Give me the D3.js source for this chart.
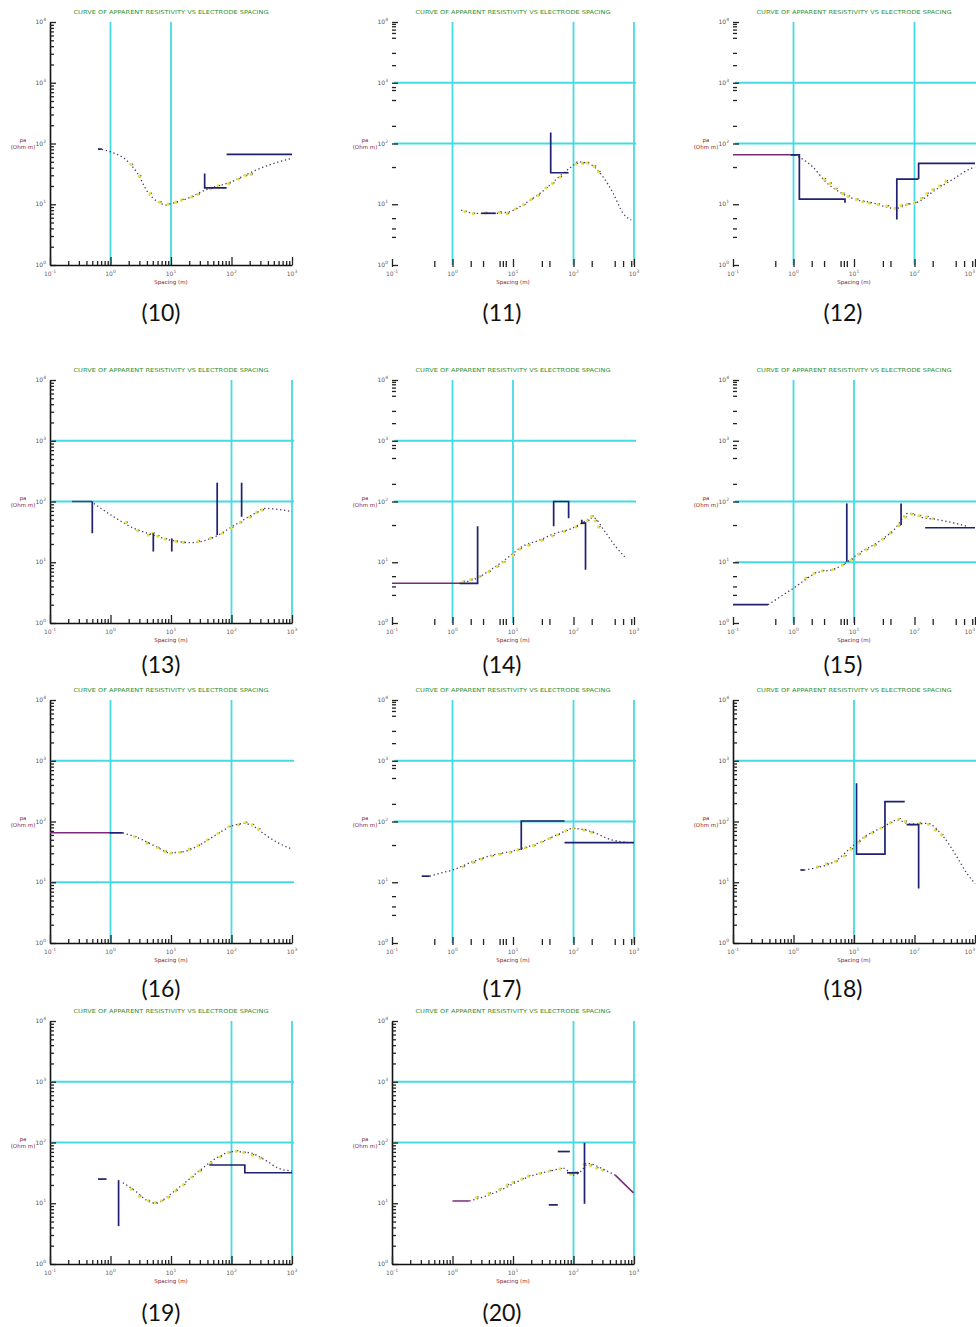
<!DOCTYPE html>
<html><head><meta charset="utf-8">
<script src="https://cdn.jsdelivr.net/npm/d3@7"></script>
<style>body{margin:0;background:#fff}svg{display:block}</style>
</head><body>
<svg id="c" width="976" height="1327"></svg>
<script>
// ---------- DATA (spacing in m, apparent resistivity in ohm-m) ----------
const panelIds = ["(10)","(11)","(12)","(13)","(14)","(15)","(16)","(17)","(18)","(19)","(20)"];
const xTickLabels = [0.1,1,10,100,1000];
const yTickLabels = [1,10,100,1000,10000];
const xMinorSparse = [0.5,2,3.2,6,6.8,7.6,30,40,200,480,660,900];
const yMinorSparse = [2.9,4,5.9,41,195,520,760,850,1950,3100,5500,6600,7500,8500,9300];
const titleText = "CURVE OF APPARENT RESISTIVITY VS ELECTRODE SPACING";

const curve10 = [[0.72,80],[1.0,73],[2.0,49],[2.8,32],[4.1,16],[6,11],[8.3,9.7],[10.7,10.4],[19,12.5],[36,17],[100,23.5],[190,32],[410,44],[1000,57]];
const field10 = [[2.2,45],[3,29],[4.5,15],[6.5,10.8],[9,10],[12,10.8],[15,11.8],[22,13.2],[28,14.5],[45,18],[60,20],[90,22],[130,26],[170,29.5],[210,31]];
const model10 = [[[0.62,81],[0.72,81]],[[36,32],[36,18.6],[83,18.6]],[[83,66],[1000,66]]];
const purple10 = [];
const gridX10 = [1,10], gridY10 = [];

const curve11 = [[1.39,8.0],[2.45,7.1],[5.2,7.1],[8.6,7.5],[16,10.4],[30,16],[57,28],[100,44],[120,50],[200,44],[310,28],[455,15],[660,7.1],[900,5.5]];
const field11 = [[1.6,7.6],[2.2,7.0],[3.5,7.2],[6,7.4],[8,7.0],[11,8.4],[15,9.8],[20,12],[26,14],[35,18.5],[45,22],[60,28],[75,33],[110,46],[140,47],[170,48],[220,42],[260,34]];
const model11 = [[[42,152],[42,33],[83,33]],[[3,7.1],[5.2,7.1]]];
const purple11 = [];
const gridX11 = [1,100,1000], gridY11 = [100,1000];

const curve12 = [[1.04,65],[2.07,41.5],[3.4,23.5],[5.7,16],[9.4,12.5],[20,10.6],[48,8.5],[79,10],[116,11],[218,17],[410,25],[870,39],[1000,41]];
const field12 = [[3.2,26],[4,22],[5,18],[6.5,15],[8,13.5],[11,12],[14,11],[18,10.4],[25,10],[35,9.3],[48,8.6],[60,9.5],[75,10],[100,10.5],[130,12.5],[160,15],[200,17.5],[260,20],[330,24]];
const model12 = [[[0.9,65],[1.25,65],[1.25,12.1],[7.1,12.1],[7.1,10.6]],[[51,5.6],[51,26],[116,26]],[[117,26],[117,47],[1000,47]]];
const purple12 = [[[0.1,65],[1.04,65]]];
const gridX12 = [1,100], gridY12 = [100,1000];

const curve13 = [[0.53,93],[1.13,56],[2.45,36],[4.6,29],[10,23],[21.5,21],[52,26],[113,41],[245,64],[360,77],[600,74],[1000,68]];
const field13 = [[1.8,45],[2.8,33],[4.2,28],[5,30],[6,27],[8,24],[12,22],[16,21],[28,22],[45,25],[70,30],[100,37],[140,45],[200,55],[260,66],[320,72]];
const model13 = [[[0.5,100],[0.5,30]],[[5.1,30],[5.1,15]],[[10.3,24.7],[10.3,15]],[[58,204],[58,28]],[[147,204],[147,56]]];
const purple13 = [[[0.23,100],[0.5,100]]];
const gridX13 = [100,1000], gridY13 = [100,1000];

const curve14 = [[1.3,4.5],[2.45,5.4],[4.6,7.9],[8.6,12.3],[14,18],[27,23],[50,30],[94,36],[137,44],[213,54],[330,32],[480,19],[700,12.3]];
const field14 = [[1.5,4.8],[2,5.2],[2.8,5.8],[4,7],[5.5,8.5],[7,10],[10,13],[13,16.5],[18,19],[30,23],[45,27],[70,32],[110,38],[140,44],[170,48],[200,57],[230,48],[260,38]];
const model14 = [[[1.3,4.5],[2.6,4.5],[2.6,39]],[[47,39],[47,100],[83,100],[83,53]],[[137,50],[137,44],[158,44],[158,7.5]]];
const purple14 = [[[0.1,4.5],[1.3,4.5]]];
const gridX14 = [1,10], gridY14 = [100,1000];

const curve15 = [[0.38,2.0],[0.98,3.7],[2.35,6.6],[5.0,7.9],[7.8,10.2],[12,14],[25.6,21.8],[48,36],[79,64],[131,55],[245,50],[465,44],[770,38.5]];
const field15 = [[1.6,5.5],[2.2,6.6],[3,7.2],[4.5,7.6],[6.5,9],[9,11],[12,13.5],[16,16],[22,19],[30,24],[40,30],[55,40],[70,55],[90,62],[120,58],[160,56],[200,52]];
const model15 = [[[0.1,2.0],[0.38,2.0]],[[7.6,93],[7.6,10.2]],[[60,93],[60,41]],[[150,37],[1000,37]]];
const purple15 = [];
const gridX15 = [1,10], gridY15 = [10,100];

const curve16 = [[1.6,65],[3.0,52.6],[5.7,38.5],[9.4,30.6],[15.6,31.7],[29,40.6],[55,60],[103,85],[161,93],[236,82],[365,60],[600,44],[945,36]];
const field16 = [[2.5,56],[4,44],[6,37],[8,32],[10,30],[14,31],[20,35],[28,40],[40,50],[60,64],[90,82],[130,88],[170,96],[220,88],[280,75]];
const model16 = [[[0.97,65],[1.6,65]]];
const purple16 = [[[0.1,65],[1.0,65]]];
const gridX16 = [1,100], gridY16 = [10,1000];

const curve17 = [[0.42,12.6],[0.61,14],[1.0,15.9],[2.15,21.8],[4.6,28],[8.6,31.7],[14,36],[30,46.5],[57,62],[100,77],[200,67.5],[425,50],[800,45]];
const field17 = [[1.5,18],[2.2,21],[3,24],[4.5,27],[6,29],[9,31],[12,34],[16,37],[22,40],[30,46],[40,53],[55,60],[75,70],[100,76],[150,72],[200,66]];
const model17 = [[[0.31,12.6],[0.42,12.6]],[[13.7,34],[13.7,102],[71,102]],[[71,45],[1000,45]]];
const purple17 = [];
const gridX17 = [1,100,1000], gridY17 = [100,1000];

const curve18 = [[1.5,15.9],[2.19,17],[4.7,21.8],[10,41],[16.6,60],[31,82],[51.6,106],[85,91],[161,93],[302,56],[500,26.3],[735,14],[1000,9.5]];
const field18 = [[2.5,18],[3.5,20],[5,22],[7,27],[9,35],[12,46],[15,55],[20,65],[28,78],[40,95],[55,110],[70,100],[90,88],[120,93],[170,90],[220,72],[280,60]];
const model18 = [[[1.3,15.9],[1.5,15.9]],[[11,425],[11,29],[32.5,29],[32.5,212],[69,212]],[[74,89],[117,89],[117,7.9]]];
const purple18 = [];
const gridX18 = [10], gridY18 = [1000];

const curve19 = [[1.6,21.8],[2.66,15.5],[3.9,11.3],[5.7,10],[9.4,13.7],[17.7,22.6],[33,37.6],[63,59],[103,71],[195,68],[365,51],[600,37.6],[1000,34]];
const field19 = [[2.2,17],[3,13],[4.2,11],[5.5,10.2],[7,11],[9,12.5],[12,16],[16,20],[22,27],[30,34],[45,45],[65,58],[90,68],[120,72],[160,68],[220,62],[300,55]];
const model19 = [[[0.62,25],[0.86,25]],[[1.36,24],[1.36,4.2]],[[43,42.6],[166,42.6],[166,31.8],[1000,31.8]]];
const purple19 = [];
const gridX19 = [100,1000], gridY19 = [100,1000];

const curve20 = [[1.9,10.9],[3.3,12.8],[6.3,16.5],[11.8,22.6],[22,29],[42,34],[69,37.6],[100,29],[130,33],[177,45],[315,36],[490,29]];
const field20 = [[2.5,12.5],[4,14.5],[6,17],[8,20],[10,22],[14,25],[18,28],[28,31],[40,34],[60,37],[90,30],[110,32],[150,44],[190,42],[240,38],[300,35]];
const model20 = [[[55,71],[87,71]],[[39,9.4],[55,9.4]],[[78,31.7],[123,31.7]],[[152,99],[152,9.8]]];
const purple20 = [[[1.0,10.9],[1.9,10.9]],[[490,29],[980,14.8]]];
const gridX20 = [100,1000], gridY20 = [100,1000];

// ---------- LAYOUT ----------
const panels = [
 {curve:curve10,field:field10,model:model10,purple:purple10,gx:gridX10,gy:gridY10,axis:true},
 {curve:curve11,field:field11,model:model11,purple:purple11,gx:gridX11,gy:gridY11,axis:false},
 {curve:curve12,field:field12,model:model12,purple:purple12,gx:gridX12,gy:gridY12,axis:false},
 {curve:curve13,field:field13,model:model13,purple:purple13,gx:gridX13,gy:gridY13,axis:true},
 {curve:curve14,field:field14,model:model14,purple:purple14,gx:gridX14,gy:gridY14,axis:false},
 {curve:curve15,field:field15,model:model15,purple:purple15,gx:gridX15,gy:gridY15,axis:false},
 {curve:curve16,field:field16,model:model16,purple:purple16,gx:gridX16,gy:gridY16,axis:true},
 {curve:curve17,field:field17,model:model17,purple:purple17,gx:gridX17,gy:gridY17,axis:false},
 {curve:curve18,field:field18,model:model18,purple:purple18,gx:gridX18,gy:gridY18,axis:true},
 {curve:curve19,field:field19,model:model19,purple:purple19,gx:gridX19,gy:gridY19,axis:true},
 {curve:curve20,field:field20,model:model20,purple:purple20,gx:gridX20,gy:gridY20,axis:true}
];
const colLeft = [50,392,733], plotW = 242;
const rowTop = [22,380,700,1021], plotH = 243;
const capY = [321,673,997,1321], capX = [161,502,843];

const svg = d3.select("#c");
const minorX = [];
[0.1,1,10,100].forEach(b=>{for(let k=2;k<=9;k++) minorX.push(b*k);});
const minorY = [];
[1,10,100,1000].forEach(b=>{for(let k=2;k<=9;k++) minorY.push(b*k);});

function expLabel(sel, v){
  const e = Math.round(Math.log10(v));
  sel.text("10");
  sel.append("tspan").attr("dy",-3).attr("font-size",4.5).text(e);
}

panels.forEach((p,i)=>{
  const col = i%3, row = Math.floor(i/3);
  const left = colLeft[col];
  const g = svg.append("g").attr("transform",`translate(${left},${rowTop[row]})`);
  const x = d3.scaleLog().domain([0.1,1000]).range([0,plotW]);
  const y = d3.scaleLog().domain([1,10000]).range([plotH,0]);

  // title
  g.append("text").attr("x",plotW/2).attr("y",-8).attr("text-anchor","middle")
   .attr("font-family","DejaVu Sans").attr("font-size",5.4).attr("fill","#2f8f2f")
   .attr("textLength",195).attr("lengthAdjust","spacingAndGlyphs").text(titleText);

  // cyan grid
  g.selectAll(".gx").data(p.gx).join("line")
   .attr("x1",d=>x(d)).attr("x2",d=>x(d)).attr("y1",0).attr("y2",plotH)
   .attr("stroke","#45dbe3").attr("stroke-width",1.8);
  g.selectAll(".gy").data(p.gy).join("line")
   .attr("x1",2).attr("x2",plotW+2).attr("y1",d=>y(d)).attr("y2",d=>y(d))
   .attr("stroke","#45dbe3").attr("stroke-width",1.8);

  // axes
  const mx = p.axis ? minorX : xMinorSparse;
  const my = p.axis ? minorY : yMinorSparse;
  const ya = g.append("g").call(d3.axisRight(y).tickValues(my).tickSize(4).tickFormat("").tickSizeOuter(0));
  const yb = g.append("g").call(d3.axisRight(y).tickValues(yTickLabels).tickSize(6).tickFormat("").tickSizeOuter(0));
  const xa = g.append("g").attr("transform",`translate(0,${plotH + (p.axis?0:2)})`)
   .call(d3.axisTop(x).tickValues(mx).tickSize(p.axis?4:6).tickFormat("").tickSizeOuter(0));
  const xb = g.append("g").attr("transform",`translate(0,${plotH + (p.axis?0:2)})`)
   .call(d3.axisTop(x).tickValues(xTickLabels).tickSize(8).tickFormat("").tickSizeOuter(0));
  [ya,yb,xa,xb].forEach(a=>{
    a.selectAll("line").attr("stroke","#222").attr("stroke-width",1.3);
    a.select(".domain").attr("stroke", p.axis ? "#111" : "none").attr("stroke-width",1.6);
  });
  yb.select(".domain").remove(); xb.select(".domain").remove();
  if(!p.axis){ ya.select(".domain").remove(); xa.select(".domain").remove(); }

  // tick labels
  g.selectAll(".yl").data(yTickLabels).join("text")
   .attr("x",-4).attr("y",d=>y(d)+2).attr("text-anchor","end")
   .attr("font-family","DejaVu Sans").attr("font-size",6).attr("fill","#555")
   .each(function(d){expLabel(d3.select(this),d);});
  g.selectAll(".xl").data(xTickLabels).join("text")
   .attr("x",d=>x(d)).attr("y",plotH+11)
   .attr("text-anchor",d=> (left + x(d) + 6 > 976) ? "end" : "middle")
   .attr("font-family","DejaVu Sans").attr("font-size",6).attr("fill","#666")
   .each(function(d){expLabel(d3.select(this),d);});

  // axis titles
  const yt = g.append("text").attr("x",-27).attr("y",y(100)-2).attr("text-anchor","middle")
   .attr("font-family","DejaVu Sans").attr("font-size",5.5).attr("fill","#8b1c1c");
  yt.append("tspan").attr("x",-27).text("ρa");
  yt.append("tspan").attr("x",-27).attr("dy",7).text("(Ohm m)");
  g.append("text").attr("x",plotW/2).attr("y",plotH+19).attr("text-anchor","middle")
   .attr("font-family","DejaVu Sans").attr("font-size",5.5).attr("fill","#8b1c1c").text("Spacing (m)");

  // purple segments
  const seg = d3.line().x(d=>x(d[0])).y(d=>y(d[1]));
  g.selectAll(".pu").data(p.purple).join("path").attr("d",seg)
   .attr("fill","none").attr("stroke","#7b2a7b").attr("stroke-width",1.5);

  // computed curve (dotted)
  g.append("path").datum(p.curve)
   .attr("d",d3.line().x(d=>x(d[0])).y(d=>y(d[1])).curve(d3.curveMonotoneX))
   .attr("fill","none").attr("stroke","#4a3565").attr("stroke-width",1.3)
   .attr("stroke-dasharray","1.3,2.7");

  // field data
  g.selectAll(".fd").data(p.field).join("circle")
   .attr("cx",d=>x(d[0])).attr("cy",d=>y(d[1])).attr("r",1.6).attr("fill","#e6e04a");
  g.selectAll(".fk").data(p.field).join("circle")
   .attr("cx",d=>x(d[0])+1.5).attr("cy",d=>y(d[1])-0.5).attr("r",0.6).attr("fill","#3a3a3a");

  // layered model
  g.selectAll(".md").data(p.model).join("path").attr("d",seg)
   .attr("fill","none").attr("stroke","#1e2070").attr("stroke-width",1.7);

  // caption
  svg.append("text").attr("x",capX[col]).attr("y",capY[row]).attr("text-anchor","middle")
   .attr("font-family","Lato").attr("font-size",23).attr("fill","#111").text(panelIds[i]);
});
</script>
</body></html>
